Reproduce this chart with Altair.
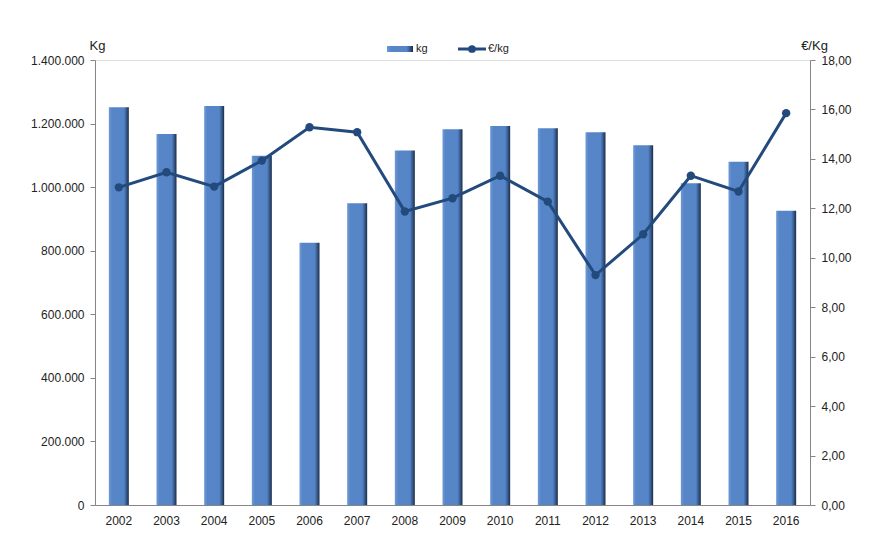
import altair as alt
import pandas as pd

years = ["2002", "2003", "2004", "2005", "2006", "2007", "2008", "2009",
         "2010", "2011", "2012", "2013", "2014", "2015", "2016"]
kg = [1251000, 1167000, 1255000, 1099000, 825000, 949000, 1115000, 1182000,
      1192000, 1185000, 1173000, 1132000, 1012000, 1080000, 926000]
eur_kg = [12.85, 13.46, 12.88, 13.93, 15.28, 15.08, 11.87, 12.41,
          13.32, 12.27, 9.30, 10.95, 13.32, 12.68, 15.85]

df = pd.DataFrame({"year": years, "kg": kg, "eur": eur_kg})

FONT = "Liberation Sans"
LINE_COLOR = "#234a7c"
GRID = "#868686"

bar_fill = alt.Gradient(
    gradient="linear", x1=0, x2=1, y1=0, y2=0,
    stops=[
        alt.GradientStop(color="#6f9ad6", offset=0),
        alt.GradientStop(color="#5786c8", offset=0.15),
        alt.GradientStop(color="#5585c6", offset=0.75),
        alt.GradientStop(color="#3d659e", offset=0.85),
        alt.GradientStop(color="#1b2c45", offset=1),
    ],
)

x_enc = alt.X("year:N", sort=years, title=None,
              scale=alt.Scale(paddingInner=0.0, paddingOuter=0.0),
              axis=alt.Axis(labelAngle=0, ticks=False, domainColor=GRID,
                            labelFont=FONT, labelFontSize=12, labelColor="#222",
                            labelPadding=10))

bars = alt.Chart(df).mark_bar(size=20, fill=bar_fill).encode(
    x=x_enc,
    y=alt.Y("kg:Q", scale=alt.Scale(domain=[0, 1400000], nice=False),
            axis=alt.Axis(values=[0, 200000, 400000, 600000, 800000, 1000000, 1200000, 1400000],
                          labelExpr="join(split(format(datum.value, ','), ','), '.')",
                          title="Kg", titleAngle=0, titleX=2, titleY=-8,
                          titleAlign="center", titleBaseline="bottom",
                          titleFont=FONT, titleFontSize=13, titleFontWeight="normal",
                          titleColor="#222",
                          grid=False, domainColor=GRID, tickColor=GRID, tickSize=5,
                          labelFont=FONT, labelFontSize=12, labelColor="#222",
                          labelPadding=6)),
)

line = alt.Chart(df).mark_line(color=LINE_COLOR, strokeWidth=3,
                               point=alt.OverlayMarkDef(color=LINE_COLOR, size=70, filled=True, opacity=1)).encode(
    x=alt.X("year:N", sort=years),
    y=alt.Y("eur:Q", scale=alt.Scale(domain=[0, 18], nice=False),
            axis=alt.Axis(orient="right", values=[0, 2, 4, 6, 8, 10, 12, 14, 16, 18],
                          labelExpr="replace(format(datum.value, '.2f'), '.', ',')",
                          title="€/Kg", titleAngle=0, titleX=4, titleY=-8,
                          titleAlign="center", titleBaseline="bottom",
                          titleFont=FONT, titleFontSize=13, titleFontWeight="normal",
                          titleColor="#222",
                          grid=False, domainColor=GRID, tickColor=GRID, tickSize=5,
                          labelFont=FONT, labelFontSize=12, labelColor="#222",
                          labelPadding=6)),
)

# manual legend
leg_df = pd.DataFrame({"k": [0]})
leg_rect = alt.Chart(leg_df).mark_rect(fill=bar_fill).encode(
    x=alt.value(292), x2=alt.value(318), y=alt.value(-14), y2=alt.value(-8))
leg_line = alt.Chart(leg_df).mark_rule(color=LINE_COLOR, strokeWidth=3).encode(
    x=alt.value(363), x2=alt.value(391), y=alt.value(-11))
leg_dot = alt.Chart(leg_df).mark_point(color=LINE_COLOR, filled=True, size=60, opacity=1).encode(
    x=alt.value(377), y=alt.value(-11))
leg_t1 = alt.Chart(leg_df).mark_text(text="kg", align="left", baseline="middle",
                                     font=FONT, fontSize=11, color="#222").encode(
    x=alt.value(321), y=alt.value(-11))
leg_t2 = alt.Chart(leg_df).mark_text(text="€/kg", align="left", baseline="middle",
                                     font=FONT, fontSize=11, color="#222").encode(
    x=alt.value(393), y=alt.value(-11))

chart = alt.layer(bars, line, leg_rect, leg_line, leg_dot, leg_t1, leg_t2).resolve_scale(
    y="independent"
).properties(
    width=715, height=445,
    autosize=alt.AutoSizeParams(type="none"),
    padding={"left": 87, "top": 52, "right": 60, "bottom": 40},
).configure_view(stroke=None).configure(background="white")

chart.save("out.html", embed_options={"renderer": "svg", "actions": False})
